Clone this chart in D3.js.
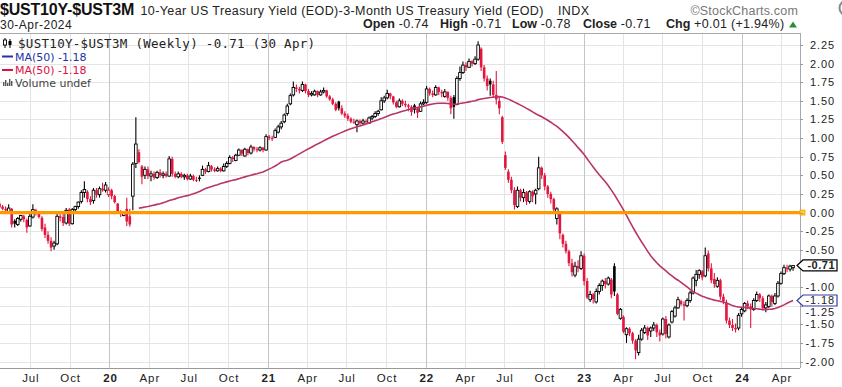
<!DOCTYPE html>
<html>
<head>
<meta charset="utf-8">
<script src="https://cdn.jsdelivr.net/npm/d3@7"></script>
<style>
body { margin: 0; background: #fff; }
svg { display: block; }
</style>
</head>
<body>
<script>
// weekly bars of $UST10Y-$UST3M, first bar = week of 1 Apr 2019, last = week of 29 Apr 2024
const firstWeek = "2019-04-01";

const opens = [
  0.08, 0.13, 0.15, 0.12, 0.08, 0.05, 0.00, 0.05, -0.11, -0.16,
  -0.09, -0.05, -0.10, -0.18, -0.06, 0.03, -0.01, -0.07, -0.20, -0.30,
  -0.38, -0.45, -0.42, -0.05, -0.06, -0.14, 0.04, -0.15, 0.04, 0.08,
  0.15, 0.27, 0.28, 0.18, 0.16, 0.30, 0.24, 0.32, 0.30, 0.24,
  0.30, 0.22, 0.12, 0.00, -0.04, 0.05, -0.05, 0.22, 0.66, 0.81,
  0.62, 0.50, 0.58, 0.49, 0.52, 0.47, 0.54, 0.50, 0.52, 0.49,
  0.72, 0.52, 0.48, 0.52, 0.48, 0.50, 0.45, 0.49, 0.44, 0.47,
  0.50, 0.58, 0.55, 0.62, 0.58, 0.56, 0.59, 0.56, 0.62, 0.66,
  0.74, 0.70, 0.77, 0.84, 0.76, 0.85, 0.80, 0.88, 0.85, 0.84,
  0.87, 0.84, 1.02, 1.00, 1.01, 1.08, 1.15, 1.22, 1.33, 1.46,
  1.58, 1.68, 1.66, 1.64, 1.72, 1.63, 1.58, 1.58, 1.63, 1.58,
  1.62, 1.64, 1.56, 1.52, 1.46, 1.49, 1.40, 1.33, 1.30, 1.26,
  1.22, 1.18, 1.23, 1.20, 1.23, 1.20, 1.27, 1.29, 1.33, 1.38,
  1.50, 1.54, 1.60, 1.56, 1.48, 1.42, 1.50, 1.46, 1.44, 1.42,
  1.44, 1.40, 1.36, 1.46, 1.48, 1.66, 1.60, 1.58, 1.68, 1.62,
  1.56, 1.62, 1.54, 1.55, 1.45, 1.80, 1.88, 1.98, 1.95, 2.03,
  2.00, 2.06, 2.20, 1.95, 1.80, 1.77, 1.72, 1.58, 1.50, 1.28,
  0.77, 0.55, 0.44, 0.30, 0.08, 0.30, 0.20, 0.27, 0.15, 0.28,
  0.25, 0.32, 0.60, 0.50, 0.35, 0.25, 0.18, -0.08, 0.00, -0.30,
  -0.42, -0.52, -0.68, -0.84, -0.72, -0.75, -0.58, -0.92, -1.17, -1.10,
  -1.20, -1.06, -0.98, -0.92, -0.96, -0.90, -0.72, -1.10, -1.42, -1.40,
  -1.64, -1.56, -1.62, -1.72, -1.88, -1.70, -1.61, -1.55, -1.59, -1.55,
  -1.51, -1.61, -1.63, -1.43, -1.67, -1.47, -1.39, -1.28, -1.19, -1.23,
  -1.25, -1.18, -1.08, -0.91, -0.83, -0.79, -0.85, -0.55, -0.75, -0.89,
  -0.99, -0.91, -1.13, -1.21, -1.45, -1.51, -1.55, -1.55, -1.36, -1.32,
  -1.22, -1.26, -1.30, -1.18, -1.10, -1.15, -1.28, -1.26, -1.12, -1.22,
  -1.12, -0.95, -0.82, -0.74, -0.76, -0.74
];

const highs = [
  0.16, 0.18, 0.17, 0.16, 0.10, 0.08, 0.11, 0.06, -0.09, -0.06,
  -0.03, -0.03, -0.08, -0.02, 0.11, 0.05, 0.02, -0.05, -0.15, -0.25,
  -0.33, -0.38, 0.00, 0.02, -0.02, 0.06, 0.06, 0.06, 0.09, 0.15,
  0.30, 0.42, 0.30, 0.22, 0.33, 0.33, 0.35, 0.40, 0.41, 0.34,
  0.32, 0.24, 0.13, 0.03, 0.01, 0.20, 0.05, 0.68, 1.28, 0.85,
  0.64, 0.62, 0.62, 0.56, 0.55, 0.56, 0.58, 0.55, 0.55, 0.76,
  0.75, 0.55, 0.55, 0.54, 0.52, 0.52, 0.52, 0.51, 0.48, 0.50,
  0.63, 0.60, 0.68, 0.64, 0.61, 0.62, 0.61, 0.66, 0.69, 0.77,
  0.76, 0.79, 0.86, 0.85, 0.87, 0.86, 0.91, 0.89, 0.88, 0.89,
  0.88, 1.05, 1.04, 1.03, 1.13, 1.18, 1.23, 1.33, 1.46, 1.60,
  1.76, 1.72, 1.69, 1.76, 1.73, 1.66, 1.63, 1.65, 1.64, 1.65,
  1.68, 1.65, 1.58, 1.54, 1.48, 1.50, 1.44, 1.36, 1.33, 1.28,
  1.26, 1.25, 1.25, 1.26, 1.25, 1.29, 1.31, 1.36, 1.38, 1.55,
  1.57, 1.65, 1.61, 1.57, 1.50, 1.53, 1.52, 1.50, 1.46, 1.44,
  1.46, 1.42, 1.49, 1.52, 1.70, 1.68, 1.64, 1.71, 1.69, 1.65,
  1.66, 1.63, 1.57, 1.58, 1.83, 1.96, 2.03, 2.02, 2.07, 2.05,
  2.10, 2.30, 2.22, 1.98, 1.84, 1.80, 1.77, 1.90, 1.55, 1.30,
  0.82, 0.58, 0.48, 0.34, 0.35, 0.32, 0.32, 0.29, 0.30, 0.30,
  0.32, 0.75, 0.62, 0.53, 0.37, 0.28, 0.20, 0.07, 0.02, -0.28,
  -0.38, -0.50, -0.62, -0.66, -0.64, -0.52, -0.55, -0.88, -1.05, -1.08,
  -1.02, -0.95, -0.90, -0.88, -0.86, -0.88, -0.68, -1.08, -1.28, -1.38,
  -1.54, -1.54, -1.60, -1.70, -1.64, -1.55, -1.51, -1.53, -1.53, -1.47,
  -1.49, -1.57, -1.41, -1.39, -1.49, -1.31, -1.25, -1.13, -1.17, -1.19,
  -1.15, -1.05, -0.86, -0.77, -0.76, -0.77, -0.47, -0.51, -0.68, -0.81,
  -0.87, -0.89, -1.09, -1.17, -1.41, -1.43, -1.49, -1.35, -1.27, -1.20,
  -1.18, -1.22, -1.15, -1.06, -1.08, -1.12, -1.20, -1.10, -1.10, -1.08,
  -0.92, -0.79, -0.70, -0.70, -0.70, -0.71
];

const lows = [
  0.05, 0.09, 0.07, 0.05, 0.03, 0.01, -0.02, -0.20, -0.20, -0.18,
  -0.12, -0.13, -0.27, -0.19, -0.08, -0.04, -0.08, -0.25, -0.34, -0.42,
  -0.52, -0.50, -0.44, -0.12, -0.18, -0.16, -0.18, -0.16, -0.02, 0.05,
  0.12, 0.20, 0.14, 0.10, 0.12, 0.20, 0.20, 0.28, 0.27, 0.21,
  0.18, 0.12, 0.00, -0.06, -0.05, -0.18, -0.19, 0.03, 0.60, 0.66,
  0.38, 0.45, 0.45, 0.42, 0.44, 0.45, 0.47, 0.46, 0.47, 0.48,
  0.48, 0.46, 0.46, 0.46, 0.44, 0.43, 0.44, 0.42, 0.41, 0.42,
  0.49, 0.52, 0.54, 0.55, 0.54, 0.55, 0.54, 0.55, 0.60, 0.65,
  0.68, 0.69, 0.76, 0.76, 0.75, 0.77, 0.78, 0.82, 0.81, 0.82,
  0.81, 0.83, 0.97, 0.96, 1.00, 1.06, 1.12, 1.20, 1.30, 1.44,
  1.56, 1.62, 1.60, 1.62, 1.60, 1.55, 1.56, 1.57, 1.55, 1.57,
  1.60, 1.54, 1.50, 1.44, 1.36, 1.37, 1.31, 1.27, 1.23, 1.20,
  1.19, 1.08, 1.17, 1.18, 1.19, 1.19, 1.24, 1.27, 1.30, 1.37,
  1.47, 1.52, 1.52, 1.45, 1.40, 1.41, 1.43, 1.41, 1.36, 1.30,
  1.33, 1.27, 1.35, 1.44, 1.46, 1.57, 1.55, 1.57, 1.58, 1.55,
  1.54, 1.50, 1.32, 1.26, 1.44, 1.77, 1.86, 1.90, 1.94, 1.96,
  1.98, 2.04, 1.90, 1.76, 1.64, 1.57, 1.55, 1.45, 1.32, 0.92,
  0.57, 0.40, 0.26, 0.04, 0.06, 0.15, 0.14, 0.10, 0.12, 0.14,
  0.11, 0.30, 0.45, 0.30, 0.20, 0.12, 0.02, -0.16, -0.36, -0.47,
  -0.55, -0.72, -0.86, -0.87, -0.80, -0.77, -0.98, -1.16, -1.20, -1.22,
  -1.22, -1.10, -1.05, -1.02, -0.98, -1.15, -1.12, -1.38, -1.44, -1.62,
  -1.75, -1.66, -1.76, -1.97, -1.92, -1.72, -1.63, -1.71, -1.67, -1.59,
  -1.67, -1.73, -1.65, -1.69, -1.69, -1.49, -1.41, -1.29, -1.25, -1.45,
  -1.27, -1.21, -1.10, -0.99, -0.89, -0.91, -0.87, -0.79, -0.95, -1.01,
  -1.01, -1.17, -1.23, -1.49, -1.55, -1.59, -1.61, -1.58, -1.40, -1.34,
  -1.30, -1.55, -1.32, -1.20, -1.20, -1.32, -1.34, -1.28, -1.26, -1.24,
  -1.14, -0.97, -0.84, -0.80, -0.79, -0.78
];

const closes = [
  0.13, 0.15, 0.11, 0.07, 0.05, 0.03, 0.06, -0.16, -0.15, -0.08,
  -0.04, -0.09, -0.20, -0.05, 0.04, -0.01, -0.06, -0.22, -0.30, -0.38,
  -0.47, -0.41, -0.05, -0.07, -0.14, 0.03, -0.15, 0.04, 0.08, 0.14,
  0.27, 0.31, 0.18, 0.14, 0.30, 0.24, 0.32, 0.30, 0.37, 0.30,
  0.22, 0.14, 0.02, -0.02, 0.00, -0.12, -0.16, 0.65, 0.92, 0.68,
  0.48, 0.58, 0.49, 0.52, 0.47, 0.54, 0.50, 0.52, 0.49, 0.72,
  0.52, 0.48, 0.52, 0.48, 0.50, 0.45, 0.49, 0.44, 0.43, 0.45,
  0.58, 0.55, 0.63, 0.58, 0.56, 0.59, 0.56, 0.62, 0.66, 0.74,
  0.72, 0.77, 0.84, 0.79, 0.85, 0.80, 0.88, 0.85, 0.84, 0.87,
  0.84, 1.02, 1.00, 0.99, 1.10, 1.15, 1.20, 1.31, 1.43, 1.57,
  1.68, 1.66, 1.64, 1.72, 1.63, 1.58, 1.60, 1.63, 1.58, 1.62,
  1.64, 1.56, 1.52, 1.46, 1.38, 1.40, 1.33, 1.30, 1.26, 1.22,
  1.21, 1.23, 1.20, 1.23, 1.22, 1.27, 1.29, 1.33, 1.36, 1.50,
  1.54, 1.60, 1.56, 1.48, 1.42, 1.50, 1.46, 1.44, 1.42, 1.35,
  1.38, 1.34, 1.46, 1.48, 1.66, 1.60, 1.58, 1.68, 1.62, 1.60,
  1.62, 1.54, 1.40, 1.42, 1.80, 1.88, 1.98, 1.95, 2.03, 2.00,
  2.06, 2.25, 1.95, 1.80, 1.70, 1.72, 1.58, 1.52, 1.40, 0.95,
  0.60, 0.44, 0.30, 0.10, 0.30, 0.20, 0.27, 0.15, 0.28, 0.22,
  0.30, 0.60, 0.50, 0.35, 0.25, 0.18, 0.04, 0.05, -0.28, -0.42,
  -0.52, -0.68, -0.80, -0.72, -0.75, -0.58, -0.92, -1.14, -1.10, -1.16,
  -1.06, -0.98, -0.92, -0.96, -0.88, -1.10, -1.06, -1.36, -1.30, -1.60,
  -1.56, -1.62, -1.72, -1.85, -1.70, -1.58, -1.55, -1.65, -1.55, -1.51,
  -1.61, -1.65, -1.43, -1.63, -1.51, -1.33, -1.28, -1.17, -1.23, -1.25,
  -1.18, -1.08, -0.88, -0.83, -0.78, -0.87, -0.58, -0.75, -0.91, -0.96,
  -0.91, -1.13, -1.19, -1.45, -1.51, -1.55, -1.57, -1.38, -1.30, -1.22,
  -1.26, -1.30, -1.18, -1.10, -1.15, -1.28, -1.24, -1.12, -1.20, -1.12,
  -0.95, -0.82, -0.74, -0.76, -0.72, -0.71
];

const maPeriod = 50;

const yTicks = [2.25, 2.00, 1.75, 1.50, 1.25, 1.00, 0.75, 0.50, 0.25, 0.00,
  -0.25, -0.50, -0.75, -1.00, -1.25, -1.50, -1.75, -2.00];

const xTickDates = ["2019-07-01", "2019-10-01", "2020-01-01", "2020-04-01", "2020-07-01",
  "2020-10-01", "2021-01-01", "2021-04-01", "2021-07-01", "2021-10-01", "2022-01-01",
  "2022-04-01", "2022-07-01", "2022-10-01", "2023-01-01", "2023-04-01", "2023-07-01",
  "2023-10-01", "2024-01-01", "2024-04-01"];

const W = 842, H = 387;
const plot = {left: 0, right: 800, top: 33, bottom: 368};
const upColor = "#000", downColor = "#e3163f", maColor = "#b8346a";
const font = "'Liberation Sans', Arial, sans-serif";

const parse = d3.utcParse("%Y-%m-%d");
const start = parse(firstWeek);

const bars = closes.map((c, k) => ({
  date: d3.utcWeek.offset(start, k),
  o: opens[k], h: highs[k], l: lows[k], c: c
}));
bars.forEach((d, k) => {
  d.up = k === 0 ? true : d.c >= bars[k - 1].c;
  d.hollow = d.c > d.o;
});
const ma = closes.map((c, k) => k < maPeriod - 1 ? null : d3.mean(closes.slice(k - maPeriod + 1, k + 1)));

const x = d3.scaleUtc()
  .domain([parse("2019-04-23"), parse("2024-05-15")])
  .range([plot.left, plot.right]);
const y = d3.scaleLinear()
  .domain([2.25, -2.00])
  .range([45, 361.5]);

const svg = d3.select("body").append("svg")
  .attr("width", W).attr("height", H)
  .style("font-family", font);

svg.append("rect").attr("width", W).attr("height", H).attr("fill", "#fff");

// grid
const gridH = svg.append("g");
gridH.selectAll("line").data(yTicks).join("line")
  .attr("x1", plot.left).attr("x2", plot.right)
  .attr("y1", d => Math.round(y(d)) + 0.5).attr("y2", d => Math.round(y(d)) + 0.5)
  .attr("stroke", "#e4e4e4");

const xTicks = xTickDates.map(parse);
const gridV = svg.append("g");
gridV.selectAll("line").data(xTicks).join("line")
  .attr("x1", d => Math.round(x(d)) + 0.5).attr("x2", d => Math.round(x(d)) + 0.5)
  .attr("y1", plot.top).attr("y2", plot.bottom)
  .attr("stroke", d => d.getUTCMonth() === 0 ? "#c4c4c4" : "#e4e4e4");

// frame
svg.append("line").attr("x1", 0).attr("x2", plot.right).attr("y1", plot.top + 0.5).attr("y2", plot.top + 0.5).attr("stroke", "#aaa");
svg.append("line").attr("x1", plot.right + 0.5).attr("x2", plot.right + 0.5).attr("y1", plot.top).attr("y2", plot.bottom).attr("stroke", "#aaa");
svg.append("line").attr("x1", 0).attr("x2", plot.right).attr("y1", plot.bottom + 0.5).attr("y2", plot.bottom + 0.5).attr("stroke", "#999");

// candles
svg.append("clipPath").attr("id", "clip")
  .append("rect").attr("x", plot.left).attr("y", plot.top)
  .attr("width", plot.right - plot.left).attr("height", plot.bottom - plot.top);
const gc = svg.append("g").attr("clip-path", "url(#clip)");

const bodyW = 2.6;
const candle = gc.selectAll("g").data(bars).join("g");
candle.append("line")
  .attr("x1", d => x(d.date)).attr("x2", d => x(d.date))
  .attr("y1", d => y(d.h)).attr("y2", d => y(d.l))
  .attr("stroke", d => d.up ? upColor : downColor)
  .attr("stroke-width", 1.1);
candle.append("rect")
  .attr("x", d => x(d.date) - bodyW / 2)
  .attr("width", bodyW)
  .attr("y", d => y(Math.max(d.o, d.c)))
  .attr("height", d => Math.max(1, Math.abs(y(d.o) - y(d.c))))
  .attr("fill", d => d.hollow ? "#fff" : (d.up ? upColor : downColor))
  .attr("stroke", d => d.hollow ? (d.up ? upColor : downColor) : "none")
  .attr("stroke-width", 0.9);

// moving average
const maLine = d3.line()
  .defined((d, k) => ma[k] !== null)
  .x(d => x(d.date))
  .y((d, k) => y(ma[k]));
gc.append("path").datum(bars)
  .attr("d", maLine)
  .attr("fill", "none")
  .attr("stroke", maColor)
  .attr("stroke-width", 1.6);

// zero line
svg.append("line")
  .attr("x1", plot.left).attr("x2", plot.right)
  .attr("y1", y(0)).attr("y2", y(0))
  .attr("stroke", "#ff9900").attr("stroke-width", 3.2);
svg.append("rect")
  .attr("x", plot.right).attr("y", y(0) - 2.5).attr("width", 5).attr("height", 5)
  .attr("fill", "#ffd21f").attr("stroke", "#ff9900").attr("stroke-width", 0.8);

// y axis labels (labels under the value boxes are hidden or pushed clear)
const fmt = v => v.toFixed(2);
const last = bars.length - 1;
const boxHalf = 5.5;
const boxCenters = [y(closes[last]), y(ma[last])];
function labelY(v) {
  let yy = y(v);
  for (const c of boxCenters) {
    const dist = yy - c;
    if (Math.abs(dist) < boxHalf + 6 && Math.abs(dist) >= 4) {
      yy = c + Math.sign(dist) * (boxHalf + 6);
    }
  }
  return yy;
}
const shownTicks = yTicks.filter(v => boxCenters.every(c => Math.abs(y(v) - c) >= 4));

svg.append("g").selectAll("line").data(yTicks).join("line")
  .attr("x1", plot.right).attr("x2", plot.right + 3)
  .attr("y1", d => Math.round(y(d)) + 0.5).attr("y2", d => Math.round(y(d)) + 0.5)
  .attr("stroke", "#999");
svg.append("g").selectAll("text").data(shownTicks).join("text")
  .attr("x", 835).attr("y", d => labelY(d) + 4)
  .attr("text-anchor", "end")
  .attr("font-size", 11).attr("letter-spacing", 0.9)
  .attr("fill", "#222")
  .text(fmt);

// x axis labels
const monthFmt = d3.utcFormat("%b"), yearFmt = d3.utcFormat("%y");
svg.append("g").selectAll("text").data(xTicks).join("text")
  .attr("x", d => x(d) + 1)
  .attr("y", 381.5)
  .attr("text-anchor", "middle")
  .attr("font-size", 11.5).attr("letter-spacing", 0.9)
  .attr("font-weight", d => d.getUTCMonth() === 0 ? "bold" : "normal")
  .attr("fill", "#222")
  .text(d => d.getUTCMonth() === 0 ? yearFmt(d) : monthFmt(d));

// value boxes on the right
function valueBox(v, stroke, bold) {
  const yc = y(v);
  const g = svg.append("g");
  g.append("path")
    .attr("d", `M797,${yc} L803,${yc - boxHalf} L837,${yc - boxHalf} L837,${yc + boxHalf} L803,${yc + boxHalf} Z`)
    .attr("fill", "#fff").attr("stroke", stroke).attr("stroke-width", 1.2);
  g.append("text")
    .attr("x", 835).attr("y", yc + 4)
    .attr("text-anchor", "end")
    .attr("font-size", 11).attr("letter-spacing", bold ? 0.5 : 0.9)
    .attr("font-weight", bold ? "bold" : "normal")
    .attr("fill", "#222")
    .text(fmt(v));
}
valueBox(ma[last], "#3a3aa8", false);
valueBox(closes[last], "#000", true);

// header
svg.append("text").attr("x", 0).attr("y", 14.5)
  .attr("font-size", 16).attr("font-weight", "bold").attr("letter-spacing", -0.2)
  .attr("fill", "#111").text("$UST10Y-$UST3M");
svg.append("text").attr("x", 140.5).attr("y", 15)
  .attr("font-size", 12.5).attr("letter-spacing", 0.4)
  .attr("fill", "#222").text("10-Year US Treasury Yield (EOD)-3-Month US Treasury Yield (EOD)");
svg.append("text").attr("x", 558).attr("y", 15)
  .attr("font-size", 12.5).attr("letter-spacing", 0.4)
  .attr("fill", "#222").text("INDX");
svg.append("text").attr("x", 798).attr("y", 15)
  .attr("text-anchor", "end")
  .attr("font-size", 12.5).attr("letter-spacing", 0.2)
  .attr("fill", "#777").text("\u00A9StockCharts.com");
svg.append("circle").attr("cx", 847).attr("cy", 8).attr("r", 7.5)
  .attr("fill", "none").attr("stroke", "#888").attr("stroke-width", 2);

svg.append("text").attr("x", 0).attr("y", 28.5)
  .attr("font-size", 12).attr("letter-spacing", 0.5)
  .attr("fill", "#222").text("30-Apr-2024");

const quote = [
  {label: "Open", value: fmt(opens[last]), x: 363},
  {label: "High", value: fmt(highs[last]), x: 440},
  {label: "Low", value: fmt(lows[last]), x: 512},
  {label: "Close", value: fmt(closes[last]), x: 583},
  {label: "Chg", value: "+0.01 (+1.94%)", x: 666}
];
quote.forEach(q => {
  const t = svg.append("text").attr("x", q.x).attr("y", 28)
    .attr("font-size", 12.5).attr("fill", "#222");
  t.append("tspan").attr("font-weight", "bold").text(q.label);
  t.append("tspan").attr("letter-spacing", 0.3).text(" " + q.value);
});
svg.append("path").attr("d", "M789,27.5 L797,27.5 L793,21.5 Z").attr("fill", "#2e8b3a");

// legend
const lg = svg.append("g");
lg.append("line").attr("x1", 5).attr("x2", 5).attr("y1", 38).attr("y2", 48).attr("stroke", "#000");
lg.append("rect").attr("x", 3.5).attr("y", 40).attr("width", 3).attr("height", 5).attr("fill", "#fff").attr("stroke", "#000").attr("stroke-width", 0.9);
lg.append("line").attr("x1", 10).attr("x2", 10).attr("y1", 39).attr("y2", 48).attr("stroke", "#000");
lg.append("rect").attr("x", 8.5).attr("y", 41).attr("width", 3).attr("height", 4).attr("fill", "#000");
lg.append("text").attr("x", 18).attr("y", 47.5)
  .attr("font-family", "'DejaVu Sans Mono', monospace")
  .attr("font-size", 12.5).attr("letter-spacing", 0.3)
  .attr("fill", "#222").text("$UST10Y-$UST3M (Weekly) " + fmt(closes[last]) + " (30 Apr)");

lg.append("line").attr("x1", 2).attr("x2", 13).attr("y1", 56.5).attr("y2", 56.5).attr("stroke", "#2233aa").attr("stroke-width", 2);
lg.append("text").attr("x", 15).attr("y", 60.5)
  .attr("font-family", "'DejaVu Sans', sans-serif").attr("font-size", 11)
  .attr("fill", "#2233aa").text("MA(50) " + fmt(ma[last]));
lg.append("line").attr("x1", 2).attr("x2", 13).attr("y1", 70).attr("y2", 70).attr("stroke", "#dd1144").attr("stroke-width", 2);
lg.append("text").attr("x", 15).attr("y", 74)
  .attr("font-family", "'DejaVu Sans', sans-serif").attr("font-size", 11)
  .attr("fill", "#dd1144").text("MA(50) " + fmt(ma[last]));

const volIcon = [4, 6, 3, 7, 5];
lg.selectAll("rect.vol").data(volIcon).join("rect").attr("class", "vol")
  .attr("x", (d, i) => 3 + i * 2).attr("width", 1.4)
  .attr("y", d => 86 - d).attr("height", d => d)
  .attr("fill", "#555");
lg.append("text").attr("x", 15).attr("y", 87)
  .attr("font-family", "'DejaVu Sans', sans-serif").attr("font-size", 11)
  .attr("fill", "#444").text("Volume undef");
</script>
</body>
</html>
